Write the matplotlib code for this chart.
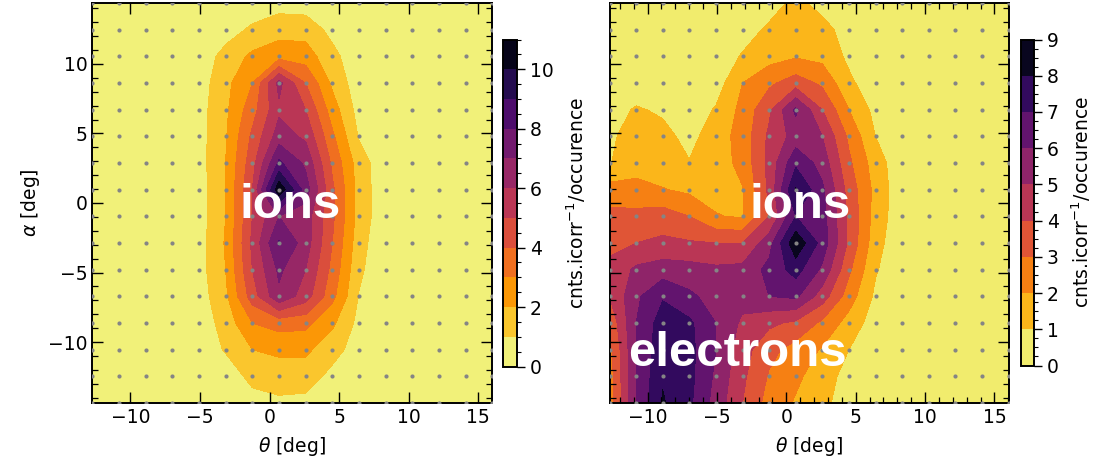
import numpy as np
import matplotlib
matplotlib.use("Agg")
import matplotlib.pyplot as plt
from matplotlib.ticker import MultipleLocator

plt.rcParams['font.family'] = ['DejaVu Sans']
plt.rcParams['mathtext.fontset'] = 'dejavusans'

# grid (bin centres) in degrees
theta = np.linspace(-12.74, 16.01, 16)
alpha = np.linspace(-14.38, 14.38, 16)

# ion-only map (rows: top alpha -> bottom alpha)
z_left_rows = [
    [0.1,0.1,0.1,0.1,0.1,0.1,0.3,0.6,0.5,0.1,0.1,0.1,0.1,0.1,0.1,0.1],
    [0.1,0.1,0.1,0.1,0.2,0.5,1.2,1.6,1.6,0.7,0.2,0.1,0.1,0.1,0.1,0.1],
    [0.1,0.1,0.1,0.1,0.3,1.4,2.2,2.6,2.5,1.3,0.3,0.1,0.1,0.1,0.1,0.1],
    [0.1,0.1,0.1,0.1,0.5,1.7,3.0,6.3,4.0,1.8,0.4,0.1,0.1,0.1,0.1,0.1],
    [0.1,0.1,0.1,0.1,0.6,1.8,3.6,5.8,5.0,2.5,0.6,0.1,0.1,0.1,0.1,0.1],
    [0.1,0.1,0.1,0.2,0.6,1.9,4.2,6.5,5.8,3.2,0.9,0.2,0.1,0.1,0.1,0.1],
    [0.1,0.1,0.1,0.2,0.6,2.0,4.6,8.2,6.8,3.8,1.5,0.3,0.1,0.1,0.1,0.1],
    [0.1,0.1,0.1,0.2,0.5,2.0,5.0,10.8,7.5,4.2,1.6,0.3,0.1,0.1,0.1,0.1],
    [0.1,0.1,0.1,0.2,0.5,2.0,5.0,7.0,6.5,4.2,1.6,0.3,0.1,0.1,0.1,0.1],
    [0.1,0.1,0.1,0.2,0.6,2.1,5.2,8.1,6.5,4.0,1.4,0.2,0.1,0.1,0.1,0.1],
    [0.1,0.1,0.1,0.2,0.6,2.0,5.0,7.2,6.0,3.7,1.2,0.2,0.1,0.1,0.1,0.1],
    [0.1,0.1,0.1,0.2,0.5,1.8,4.5,6.8,5.5,3.3,0.95,0.2,0.1,0.1,0.1,0.1],
    [0.1,0.1,0.1,0.1,0.4,1.4,3.0,3.4,3.3,2.2,0.7,0.1,0.1,0.1,0.1,0.1],
    [0.1,0.1,0.1,0.1,0.3,1.1,2.0,2.2,2.2,1.4,0.5,0.1,0.1,0.1,0.1,0.1],
    [0.1,0.1,0.1,0.1,0.2,0.4,1.3,1.5,1.5,0.7,0.3,0.1,0.1,0.1,0.1,0.1],
    [0.1,0.1,0.1,0.1,0.1,0.2,0.6,0.8,0.7,0.3,0.1,0.1,0.1,0.1,0.1,0.1],
]

# ions + electrons map (rows: top alpha -> bottom alpha)
z_right_rows = [
    [0.2,0.2,0.2,0.2,0.2,0.3,0.5,1.3,0.6,0.2,0.1,0.1,0.1,0.1,0.1,0.1],
    [0.2,0.2,0.2,0.2,0.3,0.5,1.2,1.8,1.4,0.5,0.1,0.1,0.1,0.1,0.1,0.1],
    [0.2,0.2,0.2,0.2,0.3,1.1,1.6,1.9,1.7,0.8,0.2,0.1,0.1,0.1,0.1,0.1],
    [0.3,0.4,0.3,0.3,0.5,2.0,2.8,3.5,2.8,1.2,0.4,0.1,0.1,0.1,0.1,0.1],
    [0.6,1.1,0.85,0.4,1.1,2.3,3.8,6.2,4.0,2.0,0.7,0.2,0.1,0.1,0.1,0.1],
    [0.8,1.5,1.3,0.7,1.5,2.4,4.2,5.4,5.0,2.8,1.0,0.2,0.1,0.1,0.1,0.1],
    [0.95,1.6,1.5,1.05,1.5,2.3,4.3,6.8,5.6,3.2,1.5,0.3,0.1,0.1,0.1,0.1],
    [2.4,2.3,2.05,1.8,1.7,1.95,4.2,8.1,6.2,3.6,1.7,0.3,0.1,0.1,0.1,0.1],
    [3.3,3.3,3.5,3.0,2.05,1.9,4.0,7.0,6.4,3.8,1.6,0.3,0.1,0.1,0.1,0.1],
    [3.8,4.0,4.2,4.1,4.0,4.0,5.6,8.8,6.6,3.8,1.4,0.2,0.1,0.1,0.1,0.1],
    [4.2,5.2,5.5,5.4,5.2,5.3,6.3,7.4,5.8,3.2,1.1,0.2,0.1,0.1,0.1,0.1],
    [4.0,5.8,6.9,6.2,5.6,5.4,6.0,6.2,4.5,2.5,0.8,0.2,0.1,0.1,0.1,0.1],
    [3.2,6.0,7.5,7.2,6.0,4.8,4.2,3.8,2.8,1.6,0.5,0.1,0.1,0.1,0.1,0.1],
    [2.7,6.0,7.7,7.3,6.0,4.4,3.3,2.6,1.9,1.0,0.3,0.1,0.1,0.1,0.1,0.1],
    [2.5,6.0,7.9,7.3,5.8,4.2,2.9,2.2,1.5,0.6,0.2,0.1,0.1,0.1,0.1,0.1],
    [2.4,6.0,8.1,7.2,5.6,4.0,2.6,1.9,1.3,0.4,0.1,0.1,0.1,0.1,0.1,0.1],
]

left_levels = list(range(0, 12))
right_levels = list(range(0, 10))
left_cbar_ticks = [0, 2, 4, 6, 8, 10]
right_cbar_ticks = [0, 1, 2, 3, 4, 5, 6, 7, 8, 9]
x_ticks = [-10, -5, 0, 5, 10, 15]
y_ticks = [-10, -5, 0, 5, 10]
cbar_label = r'cnts.icorr$^{-1}$/occurence'

W, H = 1094, 466
fig = plt.figure(figsize=(W / 100, H / 100), dpi=100)

def frac(x0, y0, x1, y1):
    return [x0 / W, 1 - y1 / H, (x1 - x0) / W, (y1 - y0) / H]

axL = fig.add_axes(frac(92.3, 3, 492.3, 403))
axR = fig.add_axes(frac(609.5, 3, 1008.5, 403))
caxL = fig.add_axes(frac(503.3, 39.5, 516.5, 366.5))
caxR = fig.add_axes(frac(1020.7, 39.5, 1033.5, 365.5))

TX, TY = np.meshgrid(theta, alpha)
fs = 13.5

def panel(ax, cax, rows, levels, cticks, minor_x):
    Z = np.array(rows)[::-1]
    cs = ax.contourf(TX, TY, Z, levels=levels, cmap='inferno_r')
    ax.scatter(TX.ravel(), TY.ravel(), s=9, color='#858585', zorder=3,
               linewidths=0, clip_on=True)
    ax.set_xlim(theta[0], theta[-1])
    ax.set_ylim(alpha[0], alpha[-1])
    ax.set_xticks(x_ticks)
    ax.set_yticks(y_ticks)
    ax.yaxis.set_minor_locator(MultipleLocator(1))
    if minor_x:
        ax.xaxis.set_minor_locator(MultipleLocator(1))
    ax.tick_params(which='both', direction='in', top=True, right=True,
                   labelsize=fs, color='black')
    ax.tick_params(which='major', length=8, width=1.0)
    ax.tick_params(which='minor', length=4, width=0.9)
    for s in ax.spines.values():
        s.set_linewidth(1.4)
    ax.set_xlabel(r'$\theta$ [deg]', fontsize=fs, labelpad=6)
    cb = fig.colorbar(cs, cax=cax)
    cb.set_ticks(cticks)
    cb.ax.tick_params(labelsize=fs, direction='out', length=6, width=1.0)
    cb.ax.minorticks_on()
    cb.ax.tick_params(which='minor', direction='out', length=3, width=0.8)
    cb.outline.set_linewidth(1.4)
    cb.set_label(cbar_label, fontsize=fs, labelpad=8)
    return cs

panel(axL, caxL, z_left_rows, left_levels, left_cbar_ticks, False)
panel(axR, caxR, z_right_rows, right_levels, right_cbar_ticks, True)
caxL.yaxis.set_minor_locator(MultipleLocator(0.5))
caxR.yaxis.set_minor_locator(MultipleLocator(0.25))

axL.set_ylabel(r'$\alpha$ [deg]', fontsize=fs, labelpad=4)
axR.set_yticklabels([])

tstyle = dict(color='white', fontsize=35.5, fontweight='bold',
              family=['Liberation Sans', 'DejaVu Sans'], ha='center',
              va='baseline', zorder=5)
axL.text(1.51, -1.06, 'ions', **tstyle)
axR.text(0.99, -1.06, 'ions', **tstyle)
axR.text(-3.55, -11.75, 'electrons', **tstyle)

fig.savefig('out.png', dpi=100)
